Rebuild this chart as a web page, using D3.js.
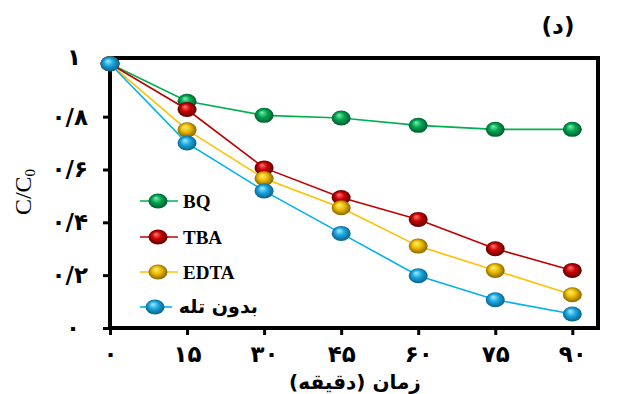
<!DOCTYPE html>
<html>
<head>
<meta charset="utf-8">
<script src="https://cdn.jsdelivr.net/npm/d3@7"></script>
<style>
  body { margin: 0; background: #fff; }
  .fa { font-family: "DejaVu Sans", sans-serif; font-weight: bold; }
  .latin { font-family: "Liberation Serif", "Times New Roman", serif; }
</style>
</head>
<body>
<div id="chart"></div>
<script>
// Data
var times = [0, 15, 30, 45, 60, 75, 90];
var xTickLabels = ["۰", "۱۵", "۳۰", "۴۵", "۶۰", "۷۵", "۹۰"];
var yTickValues = [0, 0.2, 0.4, 0.6, 0.8];
var yTickLabels = ["۰", "۰/۲", "۰/۴", "۰/۶", "۰/۸"];

var bq = [1, 0.858, 0.805, 0.795, 0.767, 0.752, 0.752];
var tba = [1, 0.827, 0.606, 0.494, 0.411, 0.30, 0.218];
var edta = [1, 0.75, 0.566, 0.455, 0.31, 0.218, 0.126];
var noScavenger = [1, 0.70, 0.519, 0.358, 0.198, 0.107, 0.053];

var seriesNames = ["BQ", "TBA", "EDTA", "بدون تله"];

// Canvas
var width = 621;
var height = 394;
var plotLeft = 110, plotRight = 598, plotTop = 58, plotBottom = 328;

var svg = d3.select("#chart")
  .append("svg")
  .attr("width", width)
  .attr("height", height);

var series = [
  { name: seriesNames[0], values: bq, line: "#00b050", light: "#7ff0b0", base: "#00a651", dark: "#00502a" },
  { name: seriesNames[1], values: tba, line: "#c00000", light: "#ff7a7a", base: "#cc0000", dark: "#4a0000" },
  { name: seriesNames[2], values: edta, line: "#ffc000", light: "#fff27a", base: "#eebb00", dark: "#7a5a00" },
  { name: seriesNames[3], values: noScavenger, line: "#00b0f0", light: "#a8ecff", base: "#1aa8e0", dark: "#07577f" }
];

// glossy ball gradients
var defs = svg.append("defs");
series.forEach(function(s, i) {
  var g = defs.append("radialGradient")
    .attr("id", "ball" + i)
    .attr("cx", "50%").attr("cy", "50%").attr("r", "55%")
    .attr("fx", "38%").attr("fy", "30%");
  g.append("stop").attr("offset", "0%").attr("stop-color", s.light);
  g.append("stop").attr("offset", "45%").attr("stop-color", s.base);
  g.append("stop").attr("offset", "100%").attr("stop-color", s.dark);
});

var xScale = d3.scaleLinear().domain([0, 95]).range([plotLeft, plotRight]);
var yScale = d3.scaleLinear().domain([0, 1.022]).range([plotBottom, plotTop]);

// Axes
var xAxis = d3.axisBottom(xScale)
  .tickValues(times)
  .tickSize(7)
  .tickPadding(11)
  .tickFormat(function(d, i) { return xTickLabels[i]; });

var yAxis = d3.axisLeft(yScale)
  .tickValues(yTickValues)
  .tickSize(7)
  .tickPadding(15)
  .tickFormat(function(d, i) { return yTickLabels[i]; });

var gx = svg.append("g")
  .attr("transform", "translate(0," + plotBottom + ")")
  .call(xAxis);
gx.select(".domain").remove();
gx.selectAll("line").attr("stroke", "#000").attr("stroke-width", 3);
gx.selectAll("text")
  .attr("class", "fa")
  .attr("font-size", 23)
  .attr("fill", "#000");

var gy = svg.append("g")
  .attr("transform", "translate(" + plotLeft + ",0)")
  .call(yAxis);
gy.select(".domain").remove();
gy.selectAll("line").attr("stroke", "#000").attr("stroke-width", 3);
gy.selectAll("text")
  .attr("class", "fa")
  .attr("font-size", 23)
  .attr("letter-spacing", 1.5)
  .attr("fill", "#000");
// the lone zero sits further left in the original
gy.selectAll(".tick text").filter(function(d) { return d === 0; })
  .attr("text-anchor", "middle")
  .attr("x", -37);

// "1" label at top of y axis (no tick mark)
svg.append("text")
  .attr("class", "fa")
  .attr("x", plotLeft - 29)
  .attr("y", yScale(1.022))
  .attr("dy", "0.32em")
  .attr("text-anchor", "end")
  .attr("font-size", 23)
  .text("۱");

// Frame
svg.append("rect")
  .attr("x", plotLeft)
  .attr("y", plotTop)
  .attr("width", plotRight - plotLeft)
  .attr("height", plotBottom - plotTop)
  .attr("fill", "none")
  .attr("stroke", "#000")
  .attr("stroke-width", 4);

// Lines and markers
var line = d3.line()
  .x(function(d, i) { return xScale(times[i]); })
  .y(function(d) { return yScale(d); });

series.forEach(function(s, i) {
  svg.append("path")
    .datum(s.values)
    .attr("d", line)
    .attr("fill", "none")
    .attr("stroke", s.line)
    .attr("stroke-width", 1.6);

  svg.selectAll(".pt" + i)
    .data(s.values)
    .enter()
    .append("ellipse")
    .attr("class", "pt" + i)
    .attr("cx", function(d, j) { return xScale(times[j]); })
    .attr("cy", function(d) { return yScale(d); })
    .attr("rx", 9.5)
    .attr("ry", 7.5)
    .attr("fill", "url(#ball" + i + ")");
});

// Legend
var legendY = [201, 237, 272, 307];
series.forEach(function(s, i) {
  var g = svg.append("g").attr("transform", "translate(0," + legendY[i] + ")");
  g.append("line")
    .attr("x1", 140).attr("x2", i === 3 ? 172 : 178)
    .attr("y1", 0).attr("y2", 0)
    .attr("stroke", s.line)
    .attr("stroke-width", 1.6);
  g.append("ellipse")
    .attr("cx", i === 3 ? 155 : 158)
    .attr("cy", 0)
    .attr("rx", 9.5)
    .attr("ry", 7.5)
    .attr("fill", "url(#ball" + i + ")");
  if (i < 3) {
    g.append("text")
      .attr("class", "latin")
      .attr("x", 183)
      .attr("y", 6.5)
      .attr("font-size", 19)
      .attr("font-weight", "bold")
      .text(s.name);
  } else {
    g.append("text")
      .attr("class", "fa")
      .attr("x", 258)
      .attr("y", 6)
      .attr("font-size", 19)
      .attr("font-weight", "normal")
      .attr("direction", "rtl")
      .attr("text-anchor", "start")
      .text(s.name);
  }
});

// Axis titles
svg.append("text")
  .attr("class", "fa")
  .attr("x", 355)
  .attr("y", 389)
  .attr("font-size", 20)
  .attr("direction", "rtl")
  .attr("text-anchor", "middle")
  .text("زمان (دقیقه)");

svg.append("text")
  .attr("class", "latin")
  .attr("transform", "translate(31,192)rotate(-90)")
  .attr("text-anchor", "middle")
  .attr("font-size", 24)
  .html("C/C<tspan font-size='15' dy='4'>0</tspan>");

// Panel label
svg.append("text")
  .attr("class", "fa")
  .attr("x", 558)
  .attr("y", 34)
  .attr("font-size", 23)
  .attr("direction", "rtl")
  .attr("text-anchor", "middle")
  .text("(د)");
</script>
</body>
</html>
